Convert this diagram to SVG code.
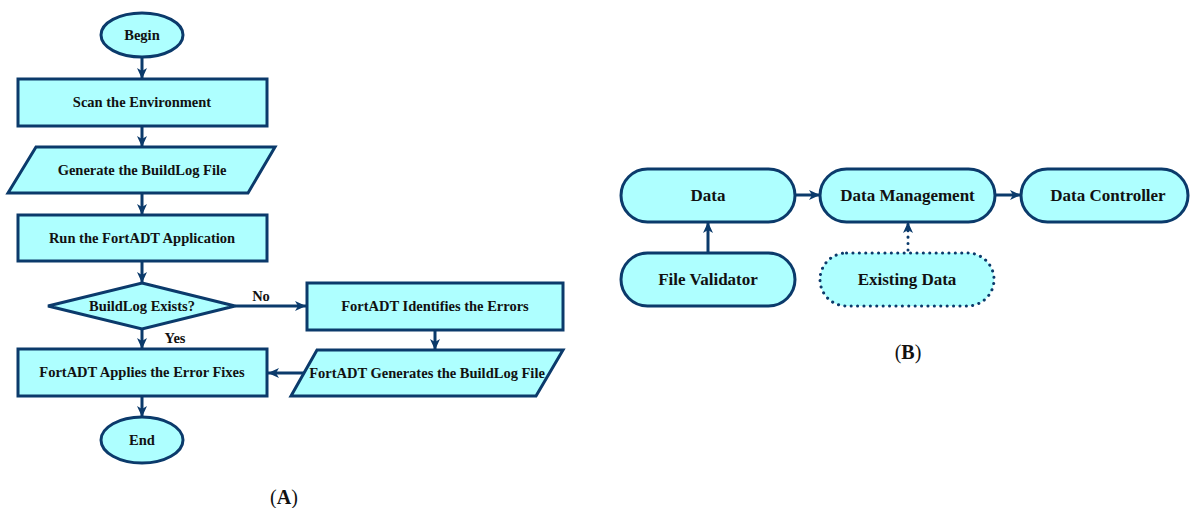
<svg xmlns="http://www.w3.org/2000/svg" width="1190" height="508" viewBox="0 0 1190 508">
<defs>
<style>
.n{fill:#AEFFFF;stroke:#0B3A6B;stroke-width:3}
.dot{stroke-dasharray:0.1 6.3;stroke-linecap:round}
.t{font-family:"Liberation Serif",serif;font-weight:bold;fill:#111;text-anchor:middle;dominant-baseline:central}
.a{font-size:14.5px}
.b{font-size:17px}
.c{stroke:#0B3A6B;stroke-width:3;fill:none;marker-end:url(#ah)}
.cap{font-family:"Liberation Serif",serif;font-size:20px;fill:#111;text-anchor:middle}
</style>
<marker id="ah" markerUnits="userSpaceOnUse" markerWidth="12" markerHeight="12" viewBox="0 0 12 12" refX="11" refY="6" orient="auto">
<path d="M0,1 L11,6 L0,11 L3,6 Z" fill="#0B3A6B"/>
</marker>
</defs>
<rect width="1190" height="508" fill="#fff"/>
<g id="connectors">
<line class="c" x1="142" y1="57" x2="142" y2="79"/>
<line class="c" x1="142" y1="126" x2="142" y2="147"/>
<line class="c" x1="142" y1="193" x2="142" y2="215"/>
<line class="c" x1="142" y1="261" x2="142" y2="283"/>
<line class="c" x1="235" y1="306" x2="306" y2="306"/>
<line class="c" x1="142" y1="329" x2="142" y2="349"/>
<line class="c" x1="435" y1="330" x2="435" y2="350"/>
<line class="c" x1="305" y1="373" x2="268" y2="373"/>
<line class="c" x1="142" y1="396" x2="142" y2="417"/>
<line class="c" x1="795" y1="195" x2="820" y2="195"/>
<line class="c" x1="995" y1="195" x2="1021" y2="195"/>
<line class="c" x1="708" y1="253" x2="708" y2="222"/>
<line class="c dot" x1="908" y1="250" x2="908" y2="222"/>
<text class="t a" x="261" y="296">No</text>
<text class="t a" x="175" y="338">Yes</text>
</g>
<g id="begin"><ellipse class="n" cx="142" cy="35" rx="41" ry="22"/><text class="t a" x="142" y="35">Begin</text></g>
<g id="scan"><rect class="n" x="18" y="79" width="249" height="47"/><text class="t a" x="142" y="102">Scan the Environment</text></g>
<g id="generate"><polygon class="n" points="36,147 275,147 248,193 8,193"/><text class="t a" x="142" y="170">Generate the BuildLog File</text></g>
<g id="run"><rect class="n" x="18" y="215" width="249" height="46"/><text class="t a" x="142" y="238">Run the FortADT Application</text></g>
<g id="decision"><polygon class="n" points="142,283 235,306 142,329 48,306"/><text class="t a" x="142" y="306">BuildLog Exists?</text></g>
<g id="identify"><rect class="n" x="307" y="283" width="256" height="47"/><text class="t a" x="435" y="306">FortADT Identifies the Errors</text></g>
<g id="generate2"><polygon class="n" points="317,350 563,350 536,396 291,396"/><text class="t a" x="427" y="373">FortADT Generates the BuildLog File</text></g>
<g id="fixes"><rect class="n" x="18" y="349" width="249" height="47"/><text class="t a" x="142" y="372">FortADT Applies the Error Fixes</text></g>
<g id="end"><ellipse class="n" cx="142" cy="440" rx="41" ry="23"/><text class="t a" x="142" y="440">End</text></g>
<text class="cap" x="284" y="504">(<tspan font-weight="bold">A</tspan>)</text>
<g id="data"><rect class="n" x="621" y="169" width="174" height="53" rx="26.5"/><text class="t b" x="708" y="195.5">Data</text></g>
<g id="datamgmt"><rect class="n" x="820" y="169" width="175" height="53" rx="26.5"/><text class="t b" x="907.5" y="195.5">Data Management</text></g>
<g id="datactrl"><rect class="n" x="1021" y="169" width="167" height="53" rx="26.5"/><text class="t b" x="1108" y="195.5">Data Controller</text></g>
<g id="filevalidator"><rect class="n" x="621" y="253" width="174" height="53" rx="26.5"/><text class="t b" x="708" y="279.5">File Validator</text></g>
<g id="existing"><rect class="n dot" x="820" y="253" width="174" height="53" rx="26.5"/><text class="t b" x="907" y="279.5">Existing Data</text></g>
<text class="cap" x="908" y="359">(<tspan font-weight="bold">B</tspan>)</text>
</svg>
